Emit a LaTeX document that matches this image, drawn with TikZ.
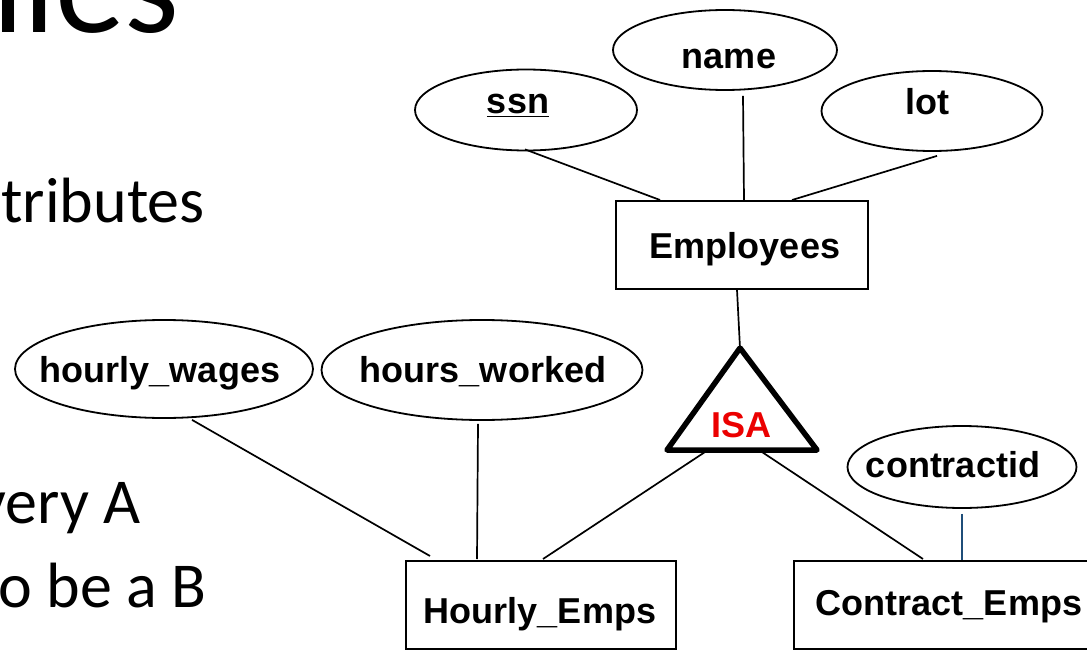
\documentclass[tikz,border=0pt]{standalone}
\usepackage{fontspec}
\setmainfont{Liberation Sans}
\newfontfamily\slidefont{Carlito}
\usetikzlibrary{shapes.geometric,calc}
\definecolor{isared}{RGB}{235,0,0}
\definecolor{linkblue}{RGB}{31,78,121}
\tikzset{
  attr/.style={draw, ellipse, line width=1.8pt, inner sep=0pt},
  entity/.style={draw, rectangle, line width=1.8pt, inner sep=0pt, anchor=north west},
  lbl/.style={inner sep=0pt, anchor=base, font=\bfseries\fontsize{36}{40}\selectfont},
  link/.style={line width=1.7pt},
  slide/.style={font=\slidefont\fontsize{64}{72}\selectfont, inner sep=0pt, anchor=base east},
}
\begin{document}
\begin{tikzpicture}[x=1pt,y=-1pt]
\useasboundingbox (0,0) rectangle (1087,650);
\clip (0,0) rectangle (1087,650);
\fill[white] (0,0) rectangle (1087,650);
% slide text (cut off at the left edge)
\node[slide, font=\slidefont\fontsize{140}{150}\selectfont] (title) at (180,33) {hies};
\node[slide] (t1) at (205,222) {tributes};
\node[slide] (t2) at (141,523) {every A};
\node[slide] (t3) at (207,607) {o be a B};
% attributes (ellipses)
\node[attr, minimum width=224pt, minimum height=80pt] (name) at (725,50) {};
\node[attr, minimum width=222pt, minimum height=81pt] (ssn) at (526,110) {};
\node[attr, minimum width=221pt, minimum height=80pt] (lot) at (932,111) {};
\node[attr, minimum width=298pt, minimum height=98pt] (hw) at (164,369) {};
\node[attr, minimum width=321pt, minimum height=100pt] (hk) at (482,370) {};
\node[attr, minimum width=229pt, minimum height=82pt] (cid) at (962,467) {};
\node[lbl] (namet) at (729,69) {name};
\node[lbl] (ssnt) at (518,114) {\underline{ssn}};
\node[lbl] (lott) at (927,115) {lot};
\node[lbl] (hwt) at (160,382) {hourly\_wages};
\node[lbl] (hkt) at (483,382) {hours\_worked};
\node[lbl] (cidt) at (953,477) {contractid};
% entities
\node[entity, minimum width=252pt, minimum height=88pt] (emp) at (615,200) {};
\node[entity, minimum width=270pt, minimum height=88pt] (he) at (405,560) {};
\node[entity, minimum width=310pt, minimum height=88pt] (ce) at (793,560) {};
\node[lbl] (empt) at (745,258) {Employees};
\node[lbl] (het) at (540,623) {Hourly\_Emps};
\node[lbl] (cet) at (949,615) {Contract\_Emps};
% ISA triangle
\coordinate (isatop) at (740,348);
\coordinate (isal) at (667,450);
\coordinate (isar) at (817,450);
\draw[line width=5.5pt, line join=round] (isatop) -- (isal) -- (isar) -- cycle;
\node[font=\bfseries\fontsize{36}{40}\selectfont, text=isared, inner sep=0pt] (isa) at (741,425) {ISA};
\coordinate (isabl) at (705,452);
\coordinate (isabr) at (762,452);
% connectors
\draw[link] ($(ssn.south)+(-1,-2)$) -- ($(emp.north west)+(45,0)$);
\draw[link] ($(name.south)+(18,5)$) -- ($(emp.north west)+(129,0)$);
\draw[link] ($(lot.south)+(5,4)$) -- ($(emp.north west)+(177,0)$);
\draw[link] ($(emp.south west)+(122,0)$) -- (isatop);
\draw[link] ($(hw.south)+(28,1)$) -- ($(he.north west)+(25,-4)$);
\draw[link] ($(hk.south)+(-4,3)$) -- ($(he.north west)+(72,-1)$);
\draw[link] (isabl) -- ($(he.north west)+(138,-1)$);
\draw[link] (isabr) -- ($(ce.north west)+(130,-1)$);
\draw[link, draw=linkblue] ($(cid.south)+(0,5)$) -- ($(ce.north west)+(169,0)$);
\end{tikzpicture}
\end{document}
